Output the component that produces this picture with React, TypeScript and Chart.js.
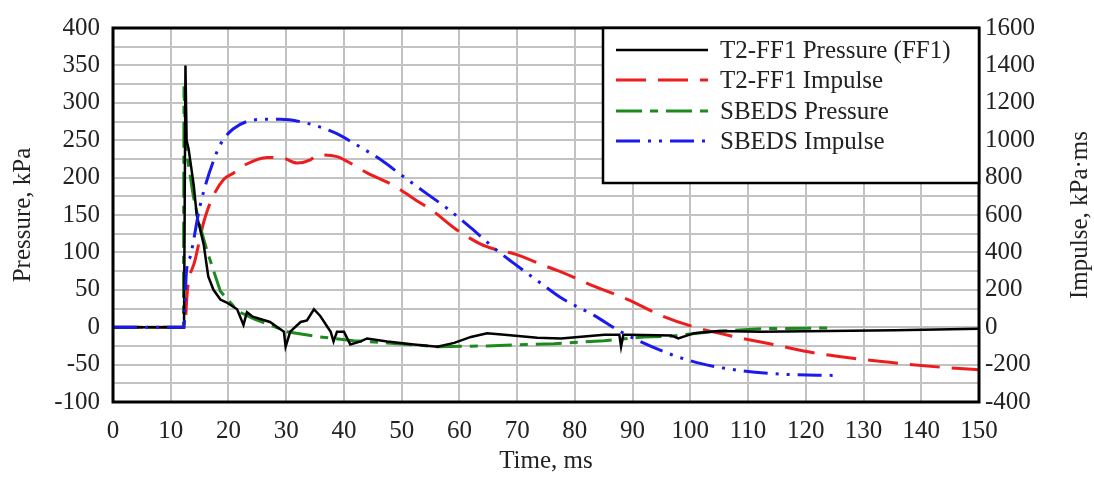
import React, { useEffect, useRef } from 'react';
import { Chart, registerables } from 'chart.js';

Chart.register(...registerables);

// ---------- data ----------
const ffPresT = [0, 12.3, 12.55, 12.75, 13.1, 14.0, 14.5, 15.7, 16.5, 17.4, 18.6, 19.7, 21.5, 22.6, 23.2, 24.2, 25.5, 27.2, 28.5, 29.6, 29.9, 30.7, 32.5, 33.6, 34.8, 35.9, 37.7, 38.2, 38.8, 40.0, 41.1, 42.9, 44.0, 47.5, 52.1, 56.2, 59.1, 62.0, 64.8, 67.8, 73.5, 77.6, 85.1, 87.7, 88.0, 88.4, 89.2, 96.7, 97.9, 100.7, 104.8, 112.3, 123.9, 135.5, 150];
const ffPresV = [0, 0, 350, 250, 238, 189, 150, 111, 68, 50, 37, 33, 24, 3, 20, 14, 11, 7, 0, -6, -26, -6, 7, 9, 24, 15, -6, -19, -6, -6, -23, -19, -15, -19, -23, -26, -21, -13, -8, -10, -14, -15, -10, -10, -26, -10, -10, -11, -15, -8, -5, -6, -5, -4, -2];

const ffImpT = [0, 12.4, 12.9, 14.2, 15.7, 16.3, 17.4, 19.2, 20.9, 23.0, 26.7, 29.5, 31.9, 34.2, 35.4, 38.8, 40.6, 44.0, 48.7, 52.1, 55.6, 59.1, 63.7, 66.0, 69.5, 75.3, 77.6, 83.4, 89.2, 95.0, 100.7, 107.7, 114.6, 121.6, 129.7, 136.6, 144.2, 150];
const ffImpV = [0, 0, 200, 357, 560, 620, 705, 791, 825, 870, 908, 904, 878, 895, 921, 912, 886, 825, 756, 687, 617, 531, 444, 418, 392, 322, 296, 218, 148, 62, 1, -51, -94, -138, -172, -195, -216, -228];

const sbPresT = [0, 12.2, 12.3, 12.6, 13.9, 15.0, 16.3, 17.4, 18.6, 20.9, 22.0, 24.4, 27.2, 30.1, 35.9, 41.7, 47.5, 56.2, 64.8, 76.4, 85.1, 92.0, 96.7, 103.6, 112.3, 124.5];
const sbPresV = [0, 0, 322, 241, 176, 137, 102, 76, 48, 28, 20, 11, 3, -6, -13, -18, -21, -26, -25, -22, -18, -13, -12, -6, -2, -1];

const sbImpT = [0, 12.3, 12.7, 13.4, 15.1, 18.0, 19.1, 20.8, 23.2, 26.7, 29.0, 33.0, 38.2, 42.3, 46.4, 49.8, 54.4, 57.9, 62.0, 66.0, 69.5, 74.1, 77.6, 83.4, 88.0, 96.7, 101.9, 108.9, 115.8, 125];
const sbImpV = [0, 0, 290, 380, 652, 938, 1003, 1060, 1100, 1112, 1112, 1095, 1043, 973, 895, 817, 713, 635, 531, 423, 340, 235, 157, 62, -25, -146, -195, -233, -251, -258];

const seriesLabels = ['T2-FF1 Pressure (FF1)', 'T2-FF1 Impulse', 'SBEDS Pressure', 'SBEDS Impulse'];
const xTitle = 'Time, ms';
const yTitle = 'Pressure, kPa';
const y1Title = 'Impulse, kPa·ms';

// ---------- styles ----------
const FAMILY = "'Liberation Serif', 'Times New Roman', serif";
const FSIZE = 25;
const TEXT = '#222';
const GRID = '#c2c2c2';

const pts = (t: number[], v: number[]) => t.map((x, i) => ({ x, y: v[i] }));

const framePlugin = {
  id: 'frameAndLegend',
  afterDatasetsDraw(chart: any) {
    const { ctx, chartArea: a } = chart;
    ctx.save();
    ctx.strokeStyle = '#000';
    ctx.lineWidth = 3;
    ctx.setLineDash([]);
    ctx.strokeRect(a.left, a.top, a.right - a.left, a.bottom - a.top);

    // legend box
    const bx = 603, by = a.top, bw = a.right - 603, bh = 155;
    ctx.fillStyle = '#fff';
    ctx.fillRect(bx, by, bw, bh);
    ctx.lineWidth = 2.5;
    ctx.strokeRect(bx, by, bw, bh);
    const rows = [50, 80, 111, 141];
    chart.data.datasets.forEach((ds: any, i: number) => {
      const y = rows[i];
      ctx.beginPath();
      ctx.strokeStyle = ds.borderColor;
      ctx.lineWidth = ds.borderWidth;
      ctx.setLineDash(ds.borderDash || []);
      ctx.moveTo(616, y);
      ctx.lineTo(708, y);
      ctx.stroke();
      ctx.setLineDash([]);
      ctx.fillStyle = TEXT;
      ctx.font = `${FSIZE}px ${FAMILY}`;
      ctx.textAlign = 'left';
      ctx.textBaseline = 'middle';
      ctx.fillText(ds.label, 720, y + 1);
    });

    // right axis title, reading bottom-to-top
    ctx.translate(1080, (a.top + a.bottom) / 2);
    ctx.rotate(-Math.PI / 2);
    ctx.textAlign = 'center';
    ctx.textBaseline = 'middle';
    ctx.fillStyle = TEXT;
    ctx.font = `${FSIZE}px ${FAMILY}`;
    ctx.fillText(y1Title, 0, 0);
    ctx.restore();
  },
};

export default function App() {
  const ref = useRef<HTMLCanvasElement>(null);
  useEffect(() => {
    if (!ref.current) return;
    const font = { family: FAMILY, size: FSIZE };
    const chart = new Chart(ref.current, {
      type: 'line',
      data: {
        datasets: [
          { label: seriesLabels[0], data: pts(ffPresT, ffPresV), yAxisID: 'y', borderColor: '#000000', borderWidth: 2.5, pointRadius: 0, tension: 0, order: 1 },
          { label: seriesLabels[1], data: pts(ffImpT, ffImpV), yAxisID: 'y1', borderColor: '#ee1c1c', borderWidth: 3, borderDash: [30, 12], pointRadius: 0, cubicInterpolationMode: 'monotone', order: 3 },
          { label: seriesLabels[2], data: pts(sbPresT, sbPresV), yAxisID: 'y', borderColor: '#1e8a1e', borderWidth: 3, borderDash: [26, 8, 8, 8], pointRadius: 0, tension: 0, order: 2 },
          { label: seriesLabels[3], data: pts(sbImpT, sbImpV), yAxisID: 'y1', borderColor: '#1a1aee', borderWidth: 3, borderDash: [24, 8, 3, 8, 3, 8], pointRadius: 0, cubicInterpolationMode: 'monotone', order: 0 },
        ] as any,
      },
      options: {
        animation: false,
        responsive: true,
        maintainAspectRatio: false,
        layout: { padding: { top: 17, left: 0, right: 0, bottom: 0 } },
        plugins: { legend: { display: false }, tooltip: { enabled: false } },
        scales: {
          x: {
            type: 'linear', min: 0, max: 150,
            ticks: { stepSize: 10, padding: 14, font, color: TEXT, maxRotation: 0, autoSkip: false },
            grid: { color: GRID, lineWidth: 2, drawTicks: false },
            border: { display: false },
            title: { display: true, text: xTitle, font, color: TEXT, padding: { top: 0, bottom: 4 } },
            afterFit: (s: any) => { s.height = 78; },
          },
          y: {
            type: 'linear', position: 'left', min: -100, max: 400,
            ticks: { stepSize: 25, padding: 13, font, color: TEXT, autoSkip: false, callback: (v: any) => (Number(v) % 50 === 0 ? String(v) : '') },
            grid: { color: GRID, lineWidth: 2, drawTicks: false },
            border: { display: false },
            title: { display: true, text: yTitle, font, color: TEXT, padding: { top: 8, bottom: 0 } },
            afterFit: (s: any) => { s.width = 113; },
          },
          y1: {
            type: 'linear', position: 'right', min: -400, max: 1600,
            ticks: { stepSize: 200, padding: 6, font, color: TEXT, autoSkip: false, callback: (v: any) => String(v) },
            grid: { drawOnChartArea: false, drawTicks: false },
            border: { display: false },
            afterFit: (s: any) => { s.width = 115; },
          },
        },
      } as any,
      plugins: [framePlugin],
    });
    return () => chart.destroy();
  }, []);
  return (
    <div style={{ position: 'fixed', left: 0, top: 0, width: 1094, height: 480, background: '#fff' }}>
      <canvas ref={ref} />
    </div>
  );
}
